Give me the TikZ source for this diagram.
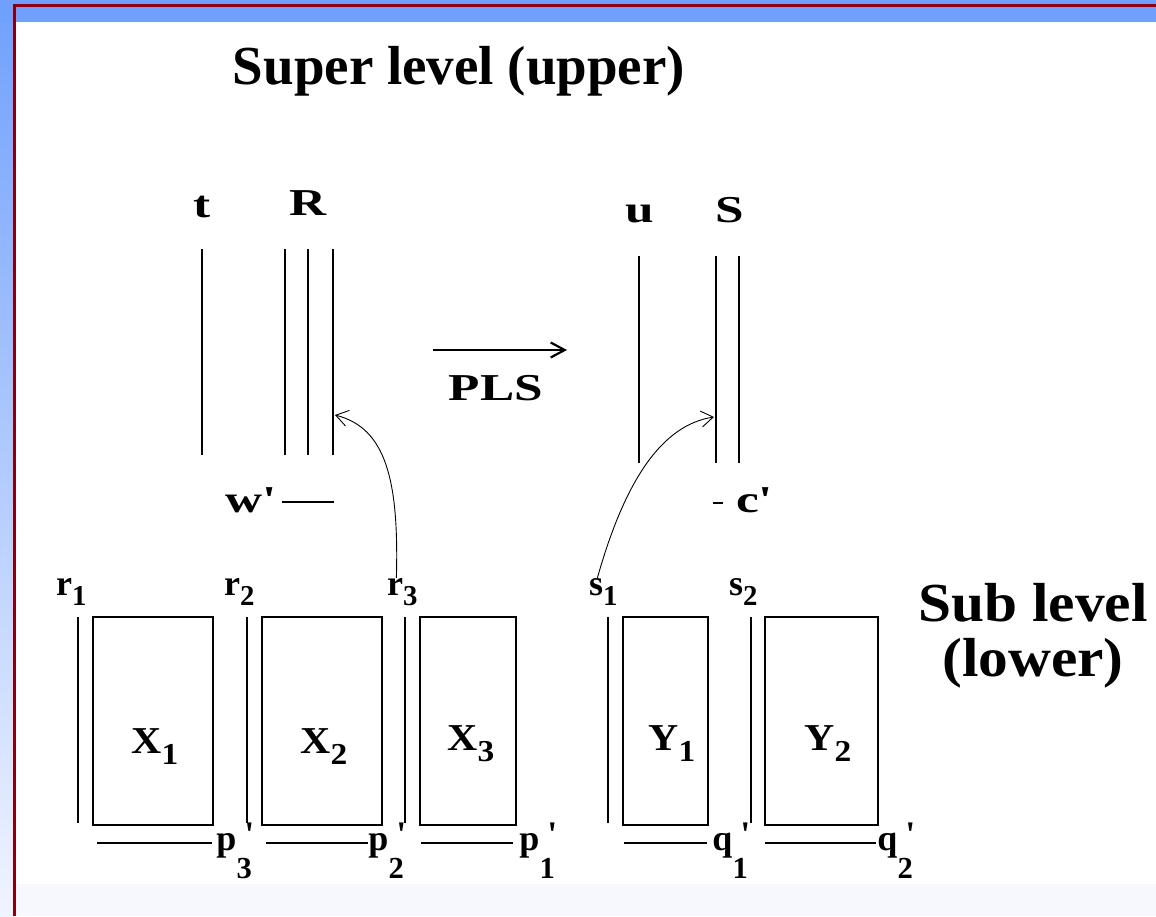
\documentclass[tikz,border=0pt]{standalone}
\usepackage{fontspec}
\setmainfont{Liberation Serif}
\newfontfamily\qfont{Liberation Serif}
\usetikzlibrary{positioning,arrows.meta}

\definecolor{slideblue}{RGB}{112,160,253}
\definecolor{slidepale}{RGB}{240,244,254}
\definecolor{slidered}{RGB}{136,0,16}
\definecolor{slidefoot}{RGB}{246,248,254}

\newcommand{\widen}[2][1.35]{\scalebox{#1}[1]{#2}}
\newcommand{\tick}{{\qfont\bfseries '}}
\newcommand{\subl}[2]{#1\raisebox{-0.3em}{\scalebox{0.8}{#2}}}
\newcommand{\primel}[2]{#1\rlap{\hspace{0.22em}\raisebox{0.1em}{\tick}}\raisebox{-0.8em}{\scalebox{0.85}{#2}}}

\tikzset{
  wire/.style={line width=2.6pt},
  block/.style={draw, rectangle, line width=2.4pt, inner sep=0pt},
  lbl/.style={font=\fontsize{36}{40}\selectfont\bfseries, inner sep=0pt},
  tag/.style={font=\fontsize{38}{40}\selectfont\bfseries, inner sep=0pt},
  heading/.style={font=\fontsize{55}{55}\selectfont\bfseries, inner sep=0pt, align=center},
  hook/.style={-{Straight Barb[length=12pt,width=16pt]}, line width=0.9pt},
  flow/.style={-{Straight Barb[length=14pt,width=15pt]}, line width=2.2pt},
}

\begin{document}
\begin{tikzpicture}[x=1pt, y=-1pt]
\useasboundingbox (0,0) rectangle (1156,916);
% slide frame
\fill[white] (0,0) rectangle (1156,916);
\shade[top color=slideblue, bottom color=slidepale] (0,0) rectangle (14,916);
\fill[slideblue] (0,0) rectangle (1156,22);
\fill[slidefoot] (16,884) rectangle (1156,916);
\draw[slidered, line width=3pt] (14.5,916) -- (14.5,5.5) -- (1156,5.5);

% Nodes
\node[heading, anchor=base] (super) at (459,84) {Super level (upper)};
\node[heading, anchor=base] (sub) at (1033,676) {\widen[1.08]{Sub level}\\\widen[1.08]{(lower)}};

\node[tag, anchor=base] (t) at (202,217) {\widen{t}};
\node[tag, anchor=base] (R) at (308,215) {\widen{R}};
\node[tag, anchor=base] (u) at (640,222) {\widen{u}};
\node[tag, anchor=base] (S) at (730,222) {\widen{S}};
\node[tag, anchor=base] (pls) at (496,400) {\widen{PLS}};
\node[tag, anchor=base east] (w) at (277,512) {\widen{w\tick}};
\node[tag, anchor=base west] (c) at (736,512) {\widen{c\tick}};

\node[lbl, anchor=base west] (r1) at (56,595) {\subl{r}{1}};
\node[lbl, anchor=base west] (r2) at (224,595) {\subl{r}{2}};
\node[lbl, anchor=base west] (r3) at (387,595) {\subl{r}{3}};
\node[lbl, anchor=base west] (s1) at (589,595) {\subl{s}{1}};
\node[lbl, anchor=base west] (s2) at (729,595) {\subl{s}{2}};

\node[lbl, anchor=base east] (p3) at (252,850) {\primel{p}{3}};
\node[lbl, anchor=base east] (p2) at (404,850) {\primel{p}{2}};
\node[lbl, anchor=base east] (p1) at (555,850) {\primel{p}{1}};
\node[lbl, anchor=base east] (q1) at (748,850) {\primel{q}{1}};
\node[lbl, anchor=base east] (q2) at (913,850) {\primel{q}{2}};

\node[block, minimum width=120pt, minimum height=208pt] (X1) at (153,721) {};
\node[block, minimum width=120pt, minimum height=208pt] (X2) at (322,721) {};
\node[block, minimum width=96pt, minimum height=208pt] (X3) at (468,721) {};
\node[block, minimum width=85pt, minimum height=208pt] (Y1) at (665.5,721) {};
\node[block, minimum width=113pt, minimum height=208pt] (Y2) at (821.5,721) {};

\node[tag, anchor=base] (x1) at (155,753) {\widen[1.1]{\subl{X}{1}}};
\node[tag, anchor=base] (x2) at (324,753) {\widen[1.1]{\subl{X}{2}}};
\node[tag, anchor=base] (x3) at (471,750) {\widen[1.1]{\subl{X}{3}}};
\node[tag, anchor=base] (y1) at (672,750) {\widen[1.1]{\subl{Y}{1}}};
\node[tag, anchor=base] (y2) at (828,750) {\widen[1.1]{\subl{Y}{2}}};

\coordinate (plsA) at (433,350);
\coordinate (plsB) at (567,350);
\coordinate (hitR) at (335,415);
\coordinate (hitS) at (714,417);

% Edges
\foreach \x in {202,285,308,333} \draw[wire] (\x,249) -- (\x,455);
\foreach \x in {639,716,739} \draw[wire] (\x,256) -- (\x,463);
\draw[wire] (282,502) -- (334,502);
\draw[wire] (713,503) -- (723,503);
\foreach \x in {78,247,405,608,751} \draw[wire] (\x,617) -- (\x,823);
\foreach \a/\b in {97/212,266/368,421/513,624/707,765/876} \draw[wire] (\a,843) -- (\b,843);

\draw[flow] (plsA) -- (plsB);
\draw[hook] ([xshift=-6pt]r3.north) .. controls (399,480) and (386,428) .. (hitR);
\draw[hook] ([xshift=-6pt]s1.north) .. controls (625,480) and (662,425) .. (hitS);
\end{tikzpicture}
\end{document}
